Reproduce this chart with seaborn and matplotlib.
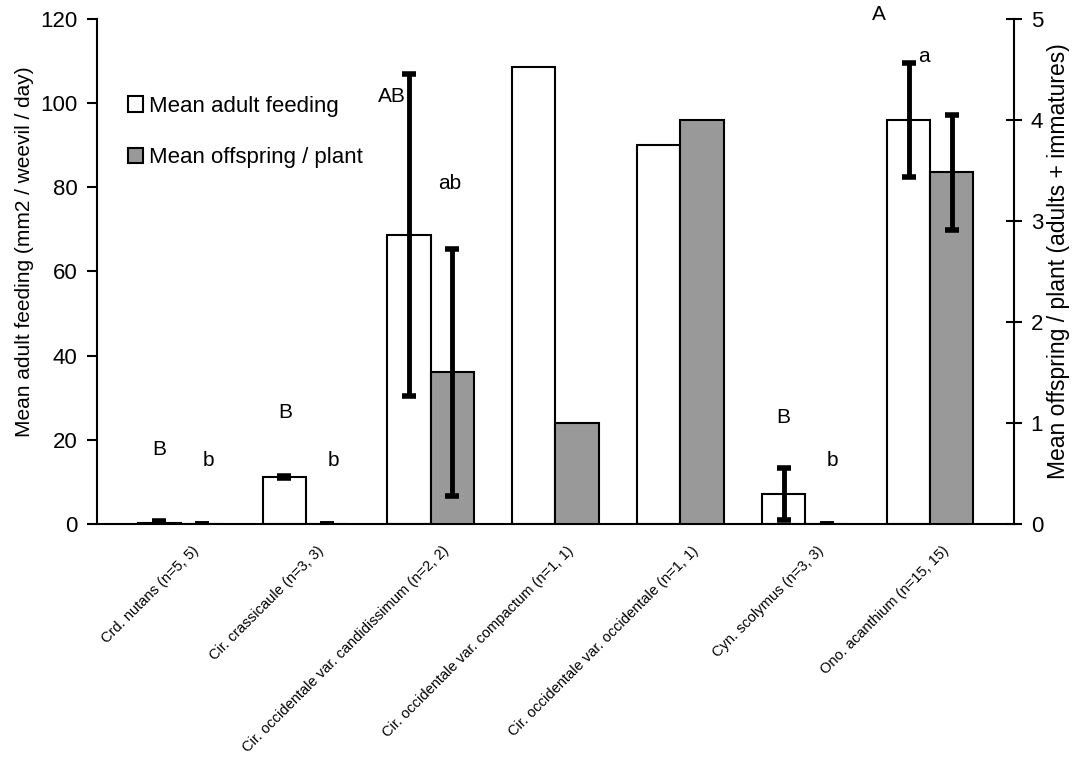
import numpy as np
import pandas as pd
import matplotlib
matplotlib.use('Agg')
import matplotlib.pyplot as plt
import matplotlib.transforms as mtransforms
from matplotlib.patches import Patch
import seaborn as sns

categories = ['Crd. nutans (n=5, 5)', 'Cir. crassicaule (n=3, 3)',
              'Cir. occidentale var. candidissimum (n=2, 2)',
              'Cir. occidentale var. compactum (n=1, 1)',
              'Cir. occidentale var. occidentale (n=1, 1)',
              'Cyn. scolymus (n=3, 3)', 'Ono. acanthium (n=15, 15)']
adult = [0.3, 11.2, 68.7, 108.6, 90.0, 7.1, 96.0]
adult_err = [0.3, 0.3, 38.3, np.nan, np.nan, 6.2, 13.5]
offspring = [0.0, 0.0, 1.5, 1.0, 4.0, 0.0, 3.48]
offspring_err = [0.0, 0.0, 1.22, np.nan, np.nan, 0.0, 0.57]

# significance letters (text, category position, height on left axis)
letters = ['B', 'b', 'B', 'b', 'AB', 'ab', 'B', 'b', 'A', 'a']
letter_x = [-0.17, 0.22, 0.84, 1.22, 1.69, 2.15, 4.82, 5.22, 5.59, 5.95]
letter_y = [17.6, 15.2, 26.6, 15.2, 101.5, 81.0, 25.4, 15.2, 121.0, 111.0]

series = ['Mean adult feeding', 'Mean offspring / plant']
colors = {series[0]: 'white', series[1]: '#999999'}

sns.set_style('ticks')
plt.rcParams['font.family'] = ['Liberation Sans', 'DejaVu Sans']
plt.rcParams['text.color'] = 'black'
plt.rcParams['axes.labelcolor'] = 'black'
plt.rcParams['xtick.color'] = 'black'
plt.rcParams['ytick.color'] = 'black'
plt.rcParams['axes.edgecolor'] = 'black'

df_a = pd.DataFrame({'category': categories, 'series': series[0], 'value': adult})
df_o = pd.DataFrame({'category': categories, 'series': series[1], 'value': offspring})

fig = plt.figure(figsize=(10.73, 7.58), dpi=100)
ax = fig.add_axes([0.0904, 0.3087, 0.8546, 0.6663])
ax2 = ax.twinx()

barkw = dict(x='category', y='value', hue='series', hue_order=series, palette=colors,
             dodge=True, width=0.69, gap=0, edgecolor='black', linewidth=1.5,
             errorbar=None, legend=False)
sns.barplot(data=df_a, ax=ax, **barkw)
sns.barplot(data=df_o, ax=ax2, **barkw)

def bar_centres(a):
    bars = [c for c in a.containers if len(c)][0]
    return [b.get_x() + b.get_width() / 2 for b in bars]

# error bars centred on the drawn bars
ebkw = dict(fmt='none', ecolor='black', elinewidth=3.5, capsize=5, capthick=4, zorder=5)
for x, v, e in zip(bar_centres(ax), adult, adult_err):
    if not np.isnan(e):
        ax.errorbar(x, v, yerr=e, **ebkw)
for x, v, e in zip(bar_centres(ax2), offspring, offspring_err):
    if not np.isnan(e):
        ax2.errorbar(x, v, yerr=e, **ebkw)

ax.set_xlim(-0.67, 6.67)
ax.set_ylim(0, 120)
ax2.set_ylim(0, 5)
ax.set_yticks(range(0, 121, 20))
ax2.set_yticks(range(0, 6))

for a in (ax, ax2):
    a.spines['top'].set_visible(False)
    for s in a.spines.values():
        s.set_linewidth(1.5)
ax.spines['right'].set_visible(False)
ax2.spines['left'].set_visible(False)
ax2.spines['bottom'].set_visible(False)

ax.tick_params(axis='y', direction='out', length=7, width=1.5, labelsize=16, pad=7)
ax2.tick_params(axis='y', direction='inout', length=12, width=1.5, labelsize=16, pad=6)
ax.tick_params(axis='x', length=0, pad=14)

ax.set_xticks(range(len(categories)))
ax.set_xticklabels(categories, rotation=45, ha='right', rotation_mode='anchor', fontsize=10.5)
offset = mtransforms.ScaledTranslation(8 / 72, 0, fig.dpi_scale_trans)
for lab in ax.get_xticklabels():
    lab.set_transform(lab.get_transform() + offset)

ax.set_xlabel('')
ax2.set_xlabel('')
ax.set_ylabel('Mean adult feeding (mm2 / weevil / day)', fontsize=15)
ax2.set_ylabel('Mean offspring / plant (adults + immatures)', fontsize=16.5)
ax.yaxis.set_label_coords(-0.069, 0.54)
ax2.yaxis.set_label_coords(1.036, 0.52)

for t, x, y in zip(letters, letter_x, letter_y):
    ax2.text(x, y / 24, t, ha='center', va='center', fontsize=15, clip_on=False)

handles = [Patch(facecolor=colors[s], edgecolor='black', linewidth=1.5) for s in series]
ax2.legend(handles, series, loc='upper left', bbox_to_anchor=(0.024, 0.865),
           frameon=False, fontsize=16, handlelength=0.7, handleheight=0.7,
           handletextpad=0.25, labelspacing=1.37, borderaxespad=0)

fig.savefig('out.png', dpi=100)
